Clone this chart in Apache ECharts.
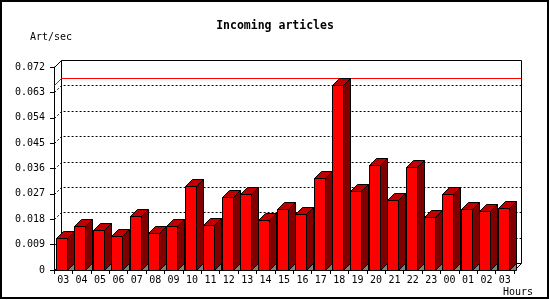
<!DOCTYPE html>
<html><head><meta charset="utf-8">
<script src="https://cdn.jsdelivr.net/npm/echarts@6/dist/echarts.min.js"></script>
<style>html,body{margin:0;padding:0;background:#fff}#c{width:550px;height:300px}</style>
</head><body><div id="c"></div>
<script>
const hours = ['03','04','05','06','07','08','09','10','11','12','13','14','15','16','17','18','19','20','21','22','23','00','01','02','03'];
const articlesPerSec = [0.0112,0.0156,0.0142,0.0121,0.0191,0.0130,0.0156,0.0298,0.0158,0.0258,0.0269,0.0177,0.0215,0.0197,0.0325,0.0656,0.0279,0.0372,0.0250,0.0364,0.0187,0.0269,0.0215,0.0208,0.0219];
const yTickValues = [0,0.009,0.018,0.027,0.036,0.045,0.054,0.063,0.072];
const titleText = 'Incoming articles';
const yName = 'Art/sec';
const xName = 'Hours';
const maxValue = Math.max(...articlesPerSec);

const MONO = "'DejaVu Sans Mono', monospace";
const D = 7;
const px = v => Math.round(v) + 0.5;

function renderWall(params, api) {
  const cs = params.coordSys;
  const L = cs.x, R = cs.x + cs.width, T = cs.y, B = cs.y + cs.height;
  const ls = {stroke: '#000', lineWidth: 1, fill: null};
  const children = [];
  children.push({type: 'polyline', shape: {points: [[px(L), px(T)], [px(L + D), px(T - D)], [px(R + D), px(T - D)], [px(R + D), px(B - D)], [px(R), px(B)]]}, style: ls});
  children.push({type: 'polyline', shape: {points: [[px(L), px(B)], [px(L + D), px(B - D)], [px(R + D), px(B - D)]]}, style: ls});
  children.push({type: 'line', shape: {x1: px(L + D), y1: px(T - D), x2: px(L + D), y2: px(B - D)}, style: ls});
  const top = yTickValues[yTickValues.length - 1];
  yTickValues.forEach(t => {
    if (t <= 0 || t >= top) return;
    const y = api.coord([0, t])[1];
    children.push({type: 'polyline', shape: {points: [[px(L), px(y)], [px(L + D), px(y - D)], [px(R + D), px(y - D)]]},
      style: {stroke: '#000', lineWidth: 1, lineDash: [2, 2], fill: null}});
  });
  const ym = api.coord([0, maxValue])[1];
  children.push({type: 'polyline', shape: {points: [[px(L), px(ym)], [px(L + D), px(ym - D)], [px(R + D), px(ym - D)]]},
    style: {stroke: '#ff0000', lineWidth: 1, fill: null}});
  return {type: 'group', children};
}

function renderBar(params, api) {
  const i = api.value(0), v = api.value(1);
  const topPt = api.coord([i, v]);
  const basePt = api.coord([i, 0]);
  const slot = api.size([1, 0])[0];
  const x0 = Math.round(topPt[0] - slot / 2 + 2), x1 = x0 + 11;
  const yt = Math.round(topPt[1]), yb = Math.round(basePt[1]);
  const h = 0.5;
  const st = c => ({fill: c, stroke: '#000', lineWidth: 1});
  return {type: 'group', children: [
    {type: 'polygon', shape: {points: [[x1 + h, yb + h], [x1 + D + h, yb - D + h], [x1 + D + h, yb + h]]}, style: st('#808080')},
    {type: 'polygon', shape: {points: [[x1 + h, yt + h], [x1 + D + h, yt - D + h], [x1 + D + h, yb - D + h], [x1 + h, yb + h]]}, style: st('#800000')},
    {type: 'polygon', shape: {points: [[x0 + h, yt + h], [x1 + h, yt + h], [x1 + D + h, yt - D + h], [x0 + D + h, yt - D + h]]}, style: st('#c00000')},
    {type: 'polygon', shape: {points: [[x0 + h, yt + h], [x1 + h, yt + h], [x1 + h, yb + h], [x0 + h, yb + h]]}, style: st('#ff0000')}
  ]};
}

const chart = echarts.init(document.getElementById('c'), null, {renderer: 'canvas'});
chart.setOption({
  animation: false,
  backgroundColor: '#fff',
  title: {text: titleText, left: 'center', top: 15,
    textStyle: {fontFamily: MONO, fontWeight: 'bold', fontSize: 11.5, color: '#000'}},
  grid: {left: 54, top: 67, width: 460, height: 203},
  xAxis: {type: 'category', data: hours, boundaryGap: true,
    axisLine: {show: true, lineStyle: {color: '#000', width: 1}},
    axisTick: {show: true, length: 4, interval: 0, alignWithLabel: false, lineStyle: {color: '#000'}},
    axisLabel: {interval: 0, color: '#000', fontFamily: MONO, fontSize: 10, margin: 5},
    splitLine: {show: false}},
  yAxis: {type: 'value', min: 0, max: 0.072, interval: 0.009,
    axisLine: {show: true, lineStyle: {color: '#000', width: 1}},
    axisTick: {show: true, length: 4, lineStyle: {color: '#000'}},
    axisLabel: {color: '#000', fontFamily: MONO, fontSize: 10, margin: 9,
      formatter: v => v === 0 ? '0' : v.toFixed(3)},
    splitLine: {show: false}},
  graphic: [
    {type: 'rect', shape: {x: 1, y: 1, width: 547, height: 297}, style: {fill: null, stroke: '#000', lineWidth: 2}, z: 100},
    {type: 'text', x: 30, y: 37, style: {text: yName, fontFamily: MONO, fontSize: 10, fill: '#000', verticalAlign: 'middle', align: 'left'}},
    {type: 'text', x: 533, y: 292, style: {text: xName, fontFamily: MONO, fontSize: 10, fill: '#000', verticalAlign: 'middle', align: 'right'}}
  ],
  series: [
    {type: 'custom', name: 'wall', renderItem: renderWall, data: [[0, 0]], clip: false, z: 1, silent: true},
    {type: 'custom', name: 'Incoming articles', renderItem: renderBar,
      data: articlesPerSec.map((v, i) => [i, v]), encode: {x: 0, y: 1}, clip: false, z: 2}
  ]
});
</script></body></html>
